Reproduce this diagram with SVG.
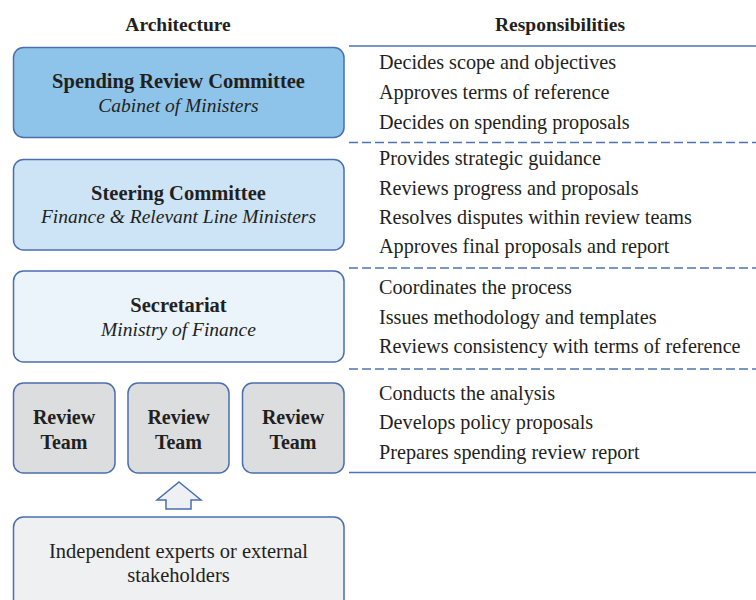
<svg xmlns="http://www.w3.org/2000/svg" width="756" height="600" viewBox="0 0 756 600">
  <style>
    text { font-family: "Liberation Serif", "Times New Roman", serif; fill: #231f20; }
    .head { font-size: 19.5px; font-weight: bold; text-anchor: middle; }
    .title { font-size: 20.5px; font-weight: bold; text-anchor: middle; }
    .sub { font-size: 19.5px; font-style: italic; text-anchor: middle; }
    .team { font-size: 20px; font-weight: bold; text-anchor: middle; }
    .plain { font-size: 20.5px; text-anchor: middle; }
    .item { font-size: 20.2px; }
    .box { stroke: #4a6fae; stroke-width: 1.5; }
    .rule { stroke: #4f74b0; stroke-width: 1.5; fill: none; }
    .dash { stroke-dasharray: 9 4; }
  </style>

  <!-- column headings -->
  <text class="head" x="178" y="31">Architecture</text>
  <text class="head" x="560" y="31">Responsibilities</text>

  <!-- separators of the responsibilities column -->
  <g id="separators">
    <line class="rule" x1="349" y1="46" x2="756" y2="46"/>
    <line class="rule dash" x1="349" y1="142.5" x2="756" y2="142.5"/>
    <line class="rule dash" x1="349" y1="268" x2="756" y2="268"/>
    <line class="rule dash" x1="349" y1="369" x2="756" y2="369"/>
    <line class="rule" x1="349" y1="472.5" x2="756" y2="472.5"/>
  </g>

  <g id="spending-review-committee">
    <rect class="box" x="13.5" y="47.5" width="330.5" height="90" rx="10" fill="#8ec4e9"/>
    <text class="title" x="178.5" y="88">Spending Review Committee</text>
    <text class="sub" x="178.5" y="112">Cabinet of Ministers</text>
  </g>

  <g id="steering-committee">
    <rect class="box" x="13.5" y="159.5" width="330.5" height="90.5" rx="10" fill="#cde4f6"/>
    <text class="title" x="178.5" y="200">Steering Committee</text>
    <text class="sub" x="178.5" y="223">Finance &amp; Relevant Line Ministers</text>
  </g>

  <g id="secretariat">
    <rect class="box" x="13.5" y="271" width="330.5" height="91" rx="10" fill="#ebf3fb"/>
    <text class="title" x="178.5" y="312">Secretariat</text>
    <text class="sub" x="178.5" y="336">Ministry of Finance</text>
  </g>

  <g id="review-team-1">
    <rect class="box" x="13.5" y="383" width="101.5" height="90" rx="10" fill="#dcdddf"/>
    <text class="team" x="64" y="423.5">Review</text>
    <text class="team" x="64" y="448.5">Team</text>
  </g>
  <g id="review-team-2">
    <rect class="box" x="128" y="383" width="101" height="90" rx="10" fill="#dcdddf"/>
    <text class="team" x="178.5" y="423.5">Review</text>
    <text class="team" x="178.5" y="448.5">Team</text>
  </g>
  <g id="review-team-3">
    <rect class="box" x="242.5" y="383" width="101.5" height="90" rx="10" fill="#dcdddf"/>
    <text class="team" x="293" y="423.5">Review</text>
    <text class="team" x="293" y="448.5">Team</text>
  </g>

  <g id="external-experts">
    <rect class="box" x="13.5" y="517" width="330.5" height="100" rx="10" fill="#eff0f2"/>
    <text class="plain" x="178.5" y="558">Independent experts or external</text>
    <text class="plain" x="178.5" y="582">stakeholders</text>
  </g>

  <!-- block arrow from experts up to the review teams -->
  <g id="connectors">
    <path class="box" fill="#eef0f3" stroke-linejoin="miter"
          d="M179,482 L201,500 L191,500 L191,509 L166,509 L166,500 L157,500 Z"/>
  </g>

  <!-- responsibilities -->
  <g id="responsibilities">
    <text class="item" x="379" y="69">Decides scope and objectives</text>
    <text class="item" x="379" y="99">Approves terms of reference</text>
    <text class="item" x="379" y="128.5">Decides on spending proposals</text>

    <text class="item" x="379" y="165">Provides strategic guidance</text>
    <text class="item" x="379" y="194.5">Reviews progress and proposals</text>
    <text class="item" x="379" y="223.5">Resolves disputes within review teams</text>
    <text class="item" x="379" y="253">Approves final proposals and report</text>

    <text class="item" x="379" y="294">Coordinates the process</text>
    <text class="item" x="379" y="324">Issues methodology and templates</text>
    <text class="item" x="379" y="352.5">Reviews consistency with terms of reference</text>

    <text class="item" x="379" y="400">Conducts the analysis</text>
    <text class="item" x="379" y="429">Develops policy proposals</text>
    <text class="item" x="379" y="458.5">Prepares spending review report</text>
  </g>
</svg>
